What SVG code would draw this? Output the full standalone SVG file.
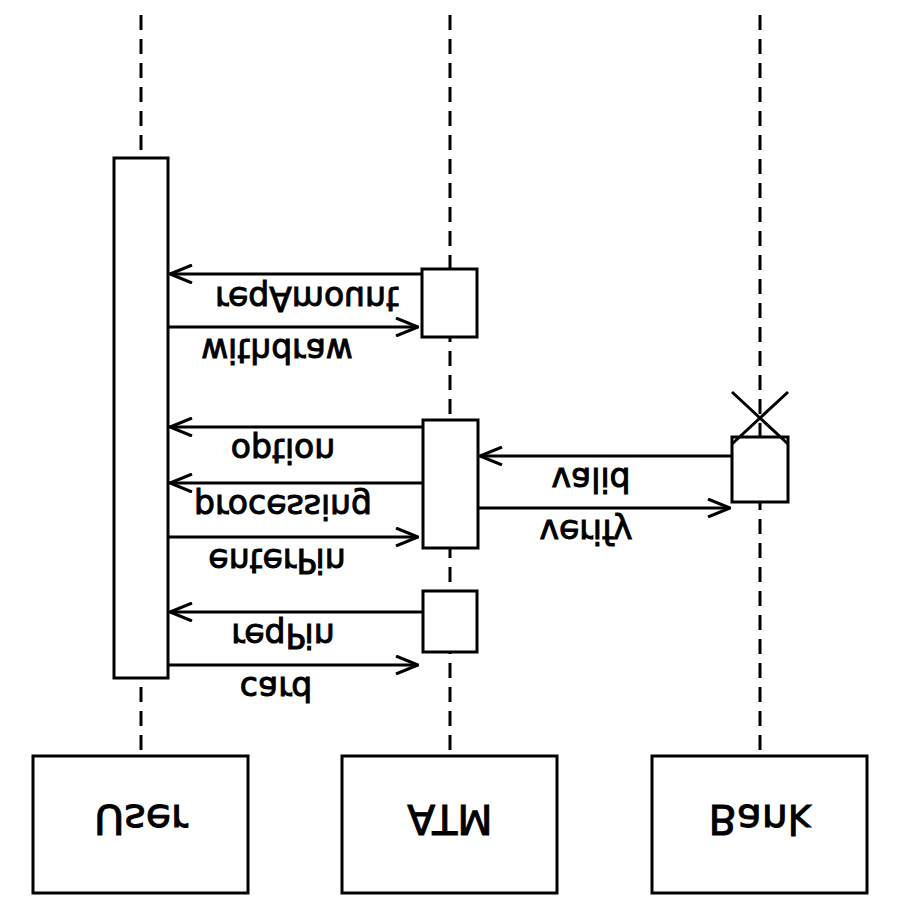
<svg xmlns="http://www.w3.org/2000/svg" width="900" height="900" viewBox="0 0 900 900">
<style>
.life{stroke:#000;stroke-width:3;stroke-dasharray:15 9;fill:none}
.box{fill:#fff;stroke:#000;stroke-width:3}
.act{fill:#fff;stroke:#000;stroke-width:3}
.msg{stroke:#000;stroke-width:3;fill:none;marker-end:url(#open)}
.lbl{font-family:"DejaVu Sans","Liberation Sans",sans-serif;font-size:33px;text-anchor:middle;fill:#000;stroke:#000;stroke-width:1}
.head{font-family:"DejaVu Sans","Liberation Sans",sans-serif;font-size:41px;text-anchor:middle;fill:#000;stroke:#000;stroke-width:1}
</style>
<defs>
<marker id="open" viewBox="0 0 24 20" refX="23" refY="10" markerWidth="24" markerHeight="20" markerUnits="userSpaceOnUse" orient="auto">
<path d="M1,1 L23,10 L1,19" fill="none" stroke="#000" stroke-width="3"/>
</marker>
</defs>
<rect width="900" height="900" fill="#fff"/>
<g id="lifelines">
<line class="life" x1="141" y1="15" x2="141" y2="756"/>
<line class="life" x1="450" y1="15" x2="450" y2="756"/>
<line class="life" x1="760" y1="15" x2="760" y2="756"/>
</g>
<g id="User">
<rect class="box" x="33" y="756" width="215" height="137"/>
<text class="head" transform="translate(141,805) scale(1,-1)">User</text>
</g>
<g id="ATM">
<rect class="box" x="342" y="756" width="215" height="137"/>
<text class="head" transform="translate(450,805) scale(1,-1)">ATM</text>
</g>
<g id="Bank">
<rect class="box" x="652" y="756" width="215" height="137"/>
<text class="head" transform="translate(760,805) scale(1,-1)">Bank</text>
</g>
<g id="activations">
<rect class="act" x="114" y="158" width="54" height="520"/>
<rect class="act" x="422" y="269" width="55" height="68"/>
<rect class="act" x="423" y="420" width="55" height="128"/>
<rect class="act" x="423" y="591" width="54" height="61"/>
<rect class="act" x="732" y="437" width="56" height="65"/>
<path d="M732,392 L788,444 M788,392 L732,444" stroke="#000" stroke-width="3" fill="none"/>
</g>
<g id="connectors">
<line class="msg" x1="422" y1="274" x2="170" y2="274"/>
<line class="msg" x1="168" y1="327" x2="418" y2="327"/>
<line class="msg" x1="423" y1="427" x2="170" y2="427"/>
<line class="msg" x1="423" y1="483" x2="170" y2="483"/>
<line class="msg" x1="168" y1="537" x2="418" y2="537"/>
<line class="msg" x1="423" y1="612" x2="170" y2="612"/>
<line class="msg" x1="168" y1="665" x2="418" y2="665"/>
<line class="msg" x1="732" y1="456" x2="480" y2="456"/>
<line class="msg" x1="478" y1="508" x2="730" y2="508"/>
</g>
<g id="labels">
<text class="lbl" transform="translate(307,287) scale(1,-1)">reqAmount</text>
<text class="lbl" transform="translate(277,339) scale(1,-1)">withdraw</text>
<text class="lbl" transform="translate(283,439) scale(1,-1)">option</text>
<text class="lbl" transform="translate(283,495) scale(1,-1)">processing</text>
<text class="lbl" transform="translate(277,549) scale(1,-1)">enterPin</text>
<text class="lbl" transform="translate(283,624) scale(1,-1)">reqPin</text>
<text class="lbl" transform="translate(276,677) scale(1,-1)">card</text>
<text class="lbl" transform="translate(591,468) scale(1,-1)">valid</text>
<text class="lbl" transform="translate(586,520) scale(1,-1)">verify</text>
</g>
</svg>
